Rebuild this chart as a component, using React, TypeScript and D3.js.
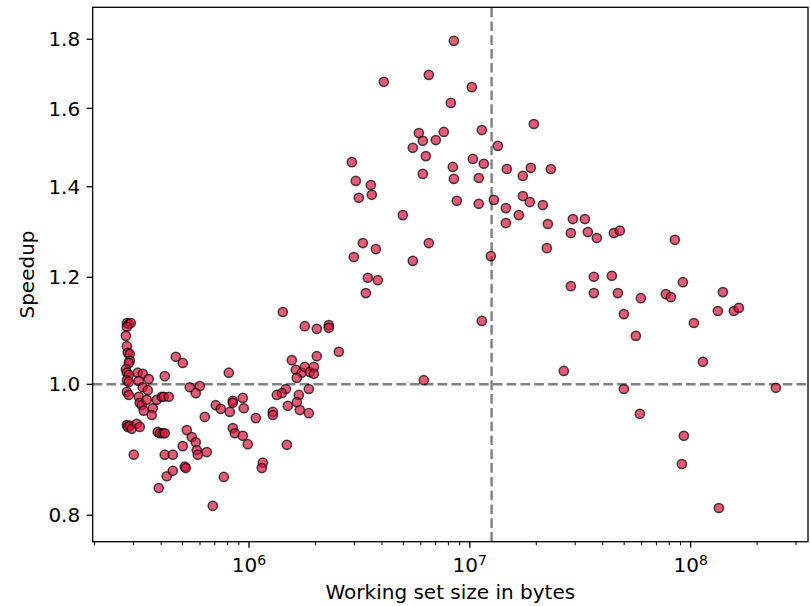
import React from "react";
import * as d3 from "d3";

// Working set size in bytes (x) and speedup (y) for each run
const sizes: number[] = [
  2.80e5, 2.855e5, 2.916e5, 2.80e5, 2.77e5, 2.80e5, 2.826e5, 2.885e5, 2.885e5, 2.855e5,
  2.77e5, 2.80e5, 2.855e5, 2.80e5, 2.855e5, 2.80e5, 2.855e5, 2.80e5, 2.826e5, 2.885e5,
  2.946e5, 3.008e5, 3.103e5, 3.202e5,
  3.136e5, 3.304e5, 3.168e5, 3.517e5, 3.304e5, 3.480e5, 3.168e5, 3.202e5, 3.269e5, 3.444e5,
  3.338e5, 3.666e5, 3.628e5, 3.822e5, 4.027e5, 4.112e5, 4.332e5, 3.862e5, 3.944e5, 4.069e5,
  4.155e5, 4.155e5,
  3.902e5, 4.243e5, 4.518e5, 4.155e5, 4.518e5, 5.118e5, 5.172e5, 5.012e5, 5.226e5, 5.506e5,
  5.741e5, 5.801e5, 5.862e5, 6.441e5, 4.661e5, 5.012e5, 5.392e5, 5.988e5, 5.741e5, 6.307e5,
  7.073e5, 7.452e5, 8.186e5, 8.447e5, 8.447e5, 9.373e5, 9.471e5, 8.101e5, 8.447e5, 8.626e5,
  9.373e5, 9.876e5, 7.690e5, 6.857e5,
  1.423e6, 1.789e6, 2.028e6, 2.298e6, 2.298e6, 2.551e6, 1.563e6, 2.028e6, 1.629e6, 1.734e6,
  1.789e6, 1.886e6, 1.966e6, 1.966e6, 1.646e6, 1.468e6, 1.408e6, 1.337e6, 1.681e6, 1.866e6,
  1.646e6, 1.499e6, 1.699e6, 1.866e6, 1.282e6, 1.282e6, 1.074e6, 1.484e6, 1.155e6, 1.143e6,
  8.463e6, 6.521e6, 4.078e6, 1.021e7, 8.202e6, 5.875e6, 6.125e6, 5.518e6, 7.015e6, 7.624e6,
  1.133e7, 1.339e7, 6.320e6, 2.922e6, 8.376e6, 1.032e7, 1.157e7, 6.125e6, 8.463e6, 1.098e7,
  3.046e6, 3.562e6, 3.599e6, 3.143e6, 8.732e6, 1.098e7, 1.285e7, 4.973e6, 3.277e6, 3.753e6,
  6.521e6, 2.983e6, 5.518e6, 1.245e7, 3.452e6, 3.832e6, 3.381e6, 1.133e7, 6.190e6,
  1.949e7, 1.471e7, 1.889e7, 1.738e7, 2.327e7, 1.738e7, 1.869e7, 1.456e7, 2.141e7, 1.456e7,
  1.667e7, 2.256e7, 2.928e7, 3.318e7, 2.867e7, 3.423e7, 3.760e7, 4.489e7, 4.780e7, 2.233e7,
  3.644e7, 4.396e7, 2.867e7, 3.644e7, 4.681e7, 5.950e7, 4.984e7, 5.647e7, 2.665e7, 4.984e7,
  8.481e7, 9.219e7, 7.722e7, 8.134e7, 1.399e8, 1.328e8, 1.570e8, 1.653e8, 1.034e8, 1.136e8,
  2.432e8, 5.887e7, 9.316e7, 9.123e7, 1.342e8,
];

const speedups: number[] = [
  1.110, 1.108, 1.110, 1.103, 1.086, 1.067, 1.055, 1.053, 1.041, 1.037,
  1.026, 1.020, 1.016, 1.007, 1.004, 0.987, 0.982, 0.933, 0.930, 0.932,
  0.927, 0.887, 0.935, 0.930,
  1.020, 1.018, 1.006, 1.009, 0.995, 0.990, 0.979, 0.969, 0.965, 0.974,
  0.956, 0.960, 0.949, 0.974, 0.979, 0.979, 0.979, 0.922, 0.920, 0.920,
  0.920, 1.014,
  0.838, 0.855, 0.863, 0.887, 0.887, 0.869, 0.867, 0.900, 0.925, 0.914,
  0.906, 0.894, 0.887, 0.891, 1.048, 1.037, 0.995, 0.997, 0.985, 0.946,
  0.965, 0.959, 0.954, 0.972, 0.969, 0.977, 0.960, 1.020, 0.928, 0.920,
  0.916, 0.903, 0.854, 0.813,
  1.131, 1.104, 1.099, 1.106, 1.101, 1.057, 1.042, 1.049, 1.025, 1.020,
  1.030, 1.021, 1.030, 1.018, 1.011, 0.992, 0.985, 0.982, 0.982, 0.992,
  0.970, 0.964, 0.957, 0.952, 0.954, 0.949, 0.944, 0.902, 0.875, 0.867,
  1.795, 1.694, 1.674, 1.659, 1.615, 1.534, 1.514, 1.496, 1.516, 1.537,
  1.542, 1.501, 1.475, 1.460, 1.448, 1.468, 1.456, 1.431, 1.419, 1.421,
  1.414, 1.404, 1.381, 1.374, 1.367, 1.360, 1.369, 1.334, 1.272, 1.259,
  1.272, 1.242, 1.234, 1.244, 1.199, 1.194, 1.168, 1.114, 1.007,
  1.558, 1.443, 1.446, 1.426, 1.443, 1.378, 1.364, 1.350, 1.357, 1.316,
  1.334, 1.314, 1.325, 1.325, 1.294, 1.296, 1.283, 1.294, 1.299, 1.261,
  1.201, 1.203, 1.182, 1.168, 1.168, 1.158, 1.127, 1.086, 1.023, 0.992,
  1.279, 1.190, 1.166, 1.160, 1.170, 1.133, 1.133, 1.139, 1.110, 1.039,
  0.994, 0.951, 0.916, 0.873, 0.810,
];

const yTicks: number[] = [0.8, 1.0, 1.2, 1.4, 1.6, 1.8];
const xMajorTicks: number[] = [1e6, 1e7, 1e8];
const xTickExponents: string[] = ["6", "7", "8"];
const thresholdSize = 1.255e7;
const baselineSpeedup = 1.0;

const W = 810;
const H = 606;
const L = 92.7;
const R = 808;
const T = 7.3;
const B = 541.7;

export default function App() {
  const x = d3.scaleLog().domain([1.96e5, 3.4e8]).range([L, R]);
  const y = d3.scaleLog().domain([0.7648, 1.9006]).range([B, T]);

  const minorTicks: number[] = [];
  for (let e = 5; e <= 8; e++) {
    for (let k = 2; k <= 9; k++) {
      const v = k * Math.pow(10, e);
      if (v >= 1.96e5 && v <= 3.4e8) minorTicks.push(v);
    }
  }

  const font = "DejaVu Sans, sans-serif";
  const data = sizes.map((s, i) => ({ s, v: speedups[i] }));
  const fs = 20;

  return (
    <svg
      width={W}
      height={H}
      style={{ position: "absolute", left: 0, top: 0, background: "#fff" }}
      fontFamily={font}
    >
      <rect x={0} y={0} width={W} height={H} fill="#fff" />
      {/* reference lines */}
      <line
        x1={L}
        x2={R}
        y1={y(baselineSpeedup)}
        y2={y(baselineSpeedup)}
        stroke="#808080"
        strokeWidth={2.4}
        strokeDasharray="9.6,4.2"
      />
      <line
        x1={x(thresholdSize)}
        x2={x(thresholdSize)}
        y1={B}
        y2={T}
        stroke="#808080"
        strokeWidth={2.4}
        strokeDasharray="9.6,4.2"
      />
      {/* points */}
      {data.map((d, i) => (
        <circle
          key={i}
          cx={x(d.s)}
          cy={y(d.v)}
          r={4.6}
          fill="#dc143c"
          fillOpacity={0.7}
          stroke="#000"
          strokeOpacity={0.7}
          strokeWidth={1.5}
        />
      ))}
      {/* frame */}
      <rect x={L} y={T} width={R - L} height={B - T} fill="none" stroke="#000" strokeWidth={1.3} />
      {/* y ticks */}
      {yTicks.map((t) => (
        <g key={t}>
          <line x1={L - 6} x2={L} y1={y(t)} y2={y(t)} stroke="#000" strokeWidth={1.3} />
          <text x={L - 12.5} y={y(t)} dy="0.36em" textAnchor="end" fontSize={fs} fill="#000">
            {t.toFixed(1)}
          </text>
        </g>
      ))}
      {/* x minor ticks */}
      {minorTicks.map((t) => (
        <line key={t} x1={x(t)} x2={x(t)} y1={B} y2={B + 3.5} stroke="#000" strokeWidth={1} />
      ))}
      {/* x major ticks */}
      {xMajorTicks.map((t, i) => (
        <g key={t}>
          <line x1={x(t)} x2={x(t)} y1={B} y2={B + 6} stroke="#000" strokeWidth={1.3} />
          <text x={x(t)} y={572} textAnchor="middle" fontSize={fs} fill="#000">
            10
            <tspan fontSize={14} dy={-7}>
              {xTickExponents[i]}
            </tspan>
          </text>
        </g>
      ))}
      <text x={(L + R) / 2} y={599} textAnchor="middle" fontSize={fs} fill="#000">
        Working set size in bytes
      </text>
      <text
        transform={`translate(34,${(T + B) / 2}) rotate(-90)`}
        textAnchor="middle"
        fontSize={fs}
        fill="#000"
      >
        Speedup
      </text>
    </svg>
  );
}
